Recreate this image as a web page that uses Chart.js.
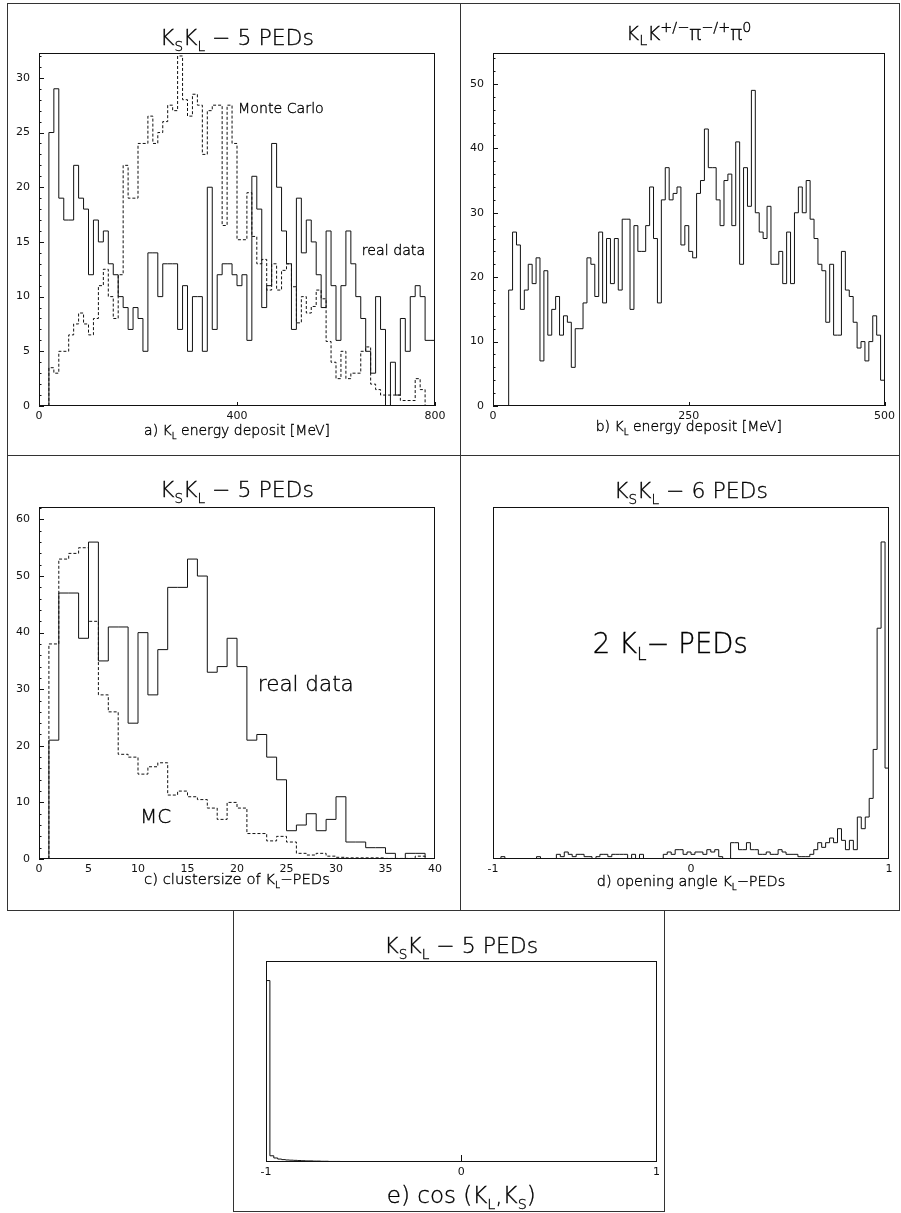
<!DOCTYPE html>
<html>
<head>
<meta charset="utf-8">
<script src="https://cdn.jsdelivr.net/npm/chart.js@4.4.1/dist/chart.umd.min.js"></script>
<style>
  html, body { margin: 0; padding: 0; background: #fff; }
  body { width: 901px; height: 1213px; position: relative; overflow: hidden; }
  .frame { position: absolute; box-sizing: border-box; border: 1px solid #333; }
  canvas { position: absolute; }
</style>
</head>
<body>
<div class="frame" style="left:7px;top:3px;width:454px;height:453px"></div>
<div class="frame" style="left:460px;top:3px;width:440px;height:453px"></div>
<div class="frame" style="left:7px;top:455px;width:454px;height:456px"></div>
<div class="frame" style="left:460px;top:455px;width:440px;height:456px"></div>
<div class="frame" style="left:233px;top:910px;width:432px;height:302px"></div>
<canvas id="pa"></canvas>
<canvas id="pb"></canvas>
<canvas id="pc"></canvas>
<canvas id="pd"></canvas>
<canvas id="pe"></canvas>
<script>
// ---- histogram contents (counts per bin) ----
// a) K_L energy deposit, K_S K_L 5 PEDs, 10 MeV bins from 0 to 800 MeV
const aBinLow = 0, aBinWidth = 10;
const aRealData = [0,0,25,29,19,17,17,22,19,18,
  12,17,15,16,13,12,10,9,7,9,
  8,5,14,14,10,13,13,13,7,11,
  5,10,10,5,20,7,12,13,13,12,
  11,12,6,21,18,9,11,24,20,16,
  13,7,19,14,17,15,12,9,16,11,
  6,11,16,13,10,8,5,3,10,7,
  0,4,1,8,5,10,11,10,6,6];
const aMonteCarlo = [0,0,3.5,3,5,5,6.5,7.5,8.5,7.5,
  6.5,8,11,12.5,10,8,12,22,19,19,
  24,24,26.5,24,25,26,27.5,27,32,28,
  26.5,28.5,27.5,23,27,27.5,27.5,16.5,27.5,24,
  15.2,15.2,19.5,15.5,13,13.4,10.6,13,10.6,12.4,
  13,10.9,7.6,10,8.5,9.1,10.6,9.8,5.9,4,
  2.5,5,2.5,3,3,5,5.4,2,1.5,1,
  1,1,1,0.5,0.5,0.5,2.5,1.5,0,0];
const aXTicks = [0, 400, 800];
const aYTicks = [0, 5, 10, 15, 20, 25, 30];

// b) K_L energy deposit, K_L K+- pi-+ pi0, 5 MeV bins from 0 to 500 MeV
const bBinLow = 0, bBinWidth = 5;
const bData = [0,0,0,0,18,27,25,15,18,22,
  19,23,7,21,11,15,17,11,14,13,
  6,12,12,16,23,22,17,27,16,26,
  19,26,18,29,29,15,28,24,24,28,
  34,26,16,32,37,32,33,34,25,28,
  24,23,33,35,43,37,37,32,28,35,
  36,28,41,22,37,31,49,30,27,26,
  31,22,22,24,19,27,19,30,34,30,
  35,29,26,22,21,13,22,11,11,24,
  18,17,13,9,10,7,10,14,11,4];
const bXTicks = [0, 250, 500];
const bYTicks = [0, 10, 20, 30, 40, 50];

// c) cluster size of K_L PEDs, unit bins from 0 to 40
const cBinLow = 0, cBinWidth = 1;
const cRealData = [0,21,47,47,39,56,35,41,41,24,
  40,29,37,48,48,53,50,33,34,39,
  34,21,22,18,14,5,6,8,5,7,
  11,3,3,2,2,1,0,1,1,0];
const cMonteCarlo = [0,38,53,54,55,42,29,26,18.5,18,
  15,16.3,17,11.3,12,11,10.5,9,7,10,
  9,4.5,4.5,3.2,4,3,1,0.7,1,0.5,
  0.3,0.2,0.2,0.2,0.2,0.1,0.1,0.1,0.5,0];
const cXTicks = [0, 5, 10, 15, 20, 25, 30, 35, 40];
const cYTicks = [0, 10, 20, 30, 40, 50, 60];

// d) opening angle of the two K_L PEDs, 0.02 bins from -1 to 1
const dBinLow = -1, dBinWidth = 0.02;
const dData = [0,0,1,0,0,0,0,0,0,0,
  0,1,0,0,0,0,2,1,3,2,
  1,2,2,1,1,0,1,2,2,1,
  2,2,2,2,0,2,0,2,0,0,
  0,0,0,2,3,2,4,4,2,3,
  2,3,3,2,4,3,4,1,0,0,
  7,7,4,4,7,4,4,2,2,3,
  2,2,4,3,2,2,2,1,1,1,
  2,4,7,5,7,9,7,13,8,4,
  8,4,18,13,18,26,47,99,136,39];
const dXTicks = [-1, 0, 1];

// e) cos(K_L, K_S), 0.02 bins from -1 to 1
const eBinLow = -1, eBinWidth = 0.02;
const eData = [993,34,22,16,13,11,10,9,8,7,
  6,6,5,5,4,4,3,3,3,2,
  2,2,2,1,1,1,1,1,0,0,
  0,0,0,0,0,0,0,0,0,0,
  0,0,0,0,0,0,0,0,0,0,
  0,0,0,0,0,0,0,0,0,0,
  0,0,0,0,0,0,0,0,0,0,
  0,0,0,0,0,0,0,0,0,0,
  0,0,0,0,0,0,0,0,0,0,
  0,0,0,0,0,0,0,0,0,0];
const eXTicks = [-1, 0, 1];

// ---- drawing helpers ----
const FAMILY = "'DejaVu Sans', 'Liberation Sans', sans-serif";
const WEIGHT = 200;

// outline of a histogram as a stepped polyline through the bin edges
function histPoints(values, lo, width) {
  const pts = values.map((v, i) => ({ x: lo + i * width, y: v }));
  const hi = lo + values.length * width;
  pts.push({ x: hi, y: values[values.length - 1] });
  pts.push({ x: hi, y: 0 });
  return pts;
}

// text with sub/superscript segments, y = baseline
function drawRich(ctx, segs, x, y, size, align, scriptScale) {
  const sc = scriptScale || 0.62;
  const parts = segs.map(s => {
    const fs = (s.sub || s.sup) ? size * sc : size;
    ctx.font = WEIGHT + ' ' + fs.toFixed(1) + 'px ' + FAMILY;
    return { s, fs, w: ctx.measureText(s.t).width };
  });
  const total = parts.reduce((a, p) => a + p.w, 0);
  let cx = align === 'center' ? x - total / 2 : (align === 'right' ? x - total : x);
  ctx.save();
  ctx.fillStyle = '#000';
  ctx.strokeStyle = '#000';
  ctx.lineWidth = 0.35;
  ctx.textAlign = 'left';
  ctx.textBaseline = 'alphabetic';
  for (const p of parts) {
    ctx.font = WEIGHT + ' ' + p.fs.toFixed(1) + 'px ' + FAMILY;
    const dy = p.s.sub ? size * 0.27 : (p.s.sup ? -size * 0.42 : 0);
    ctx.fillText(p.s.t, cx, y + dy);
    ctx.strokeText(p.s.t, cx, y + dy);
    cx += p.w;
  }
  ctx.restore();
}

// frame, inward tick marks, titles and notes
const panelDecor = {
  id: 'panelDecor',
  afterDraw(chart, args, o) {
    const ctx = chart.ctx, A = chart.chartArea;
    const xs = chart.scales.x, ys = chart.scales.y;
    ctx.save();
    ctx.strokeStyle = '#111';
    ctx.lineWidth = 1;
    ctx.strokeRect(Math.round(A.left) + 0.5, Math.round(A.top) + 0.5,
                   Math.round(A.right - A.left) - 1, Math.round(A.bottom - A.top) - 1);
    ctx.beginPath();
    if (o.yMinor) {
      for (let v = 0; v <= ys.max + 1e-9; v += o.yMinor) {
        const major = Math.abs(v / o.yMajor - Math.round(v / o.yMajor)) < 1e-6;
        const py = Math.round(ys.getPixelForValue(v)) + 0.5;
        ctx.moveTo(A.left, py);
        ctx.lineTo(A.left + (major ? 5 : 2.5), py);
      }
    }
    (o.xTickMarks || []).forEach(v => {
      const px = Math.round(xs.getPixelForValue(v)) + 0.5;
      ctx.moveTo(px, A.bottom);
      ctx.lineTo(px, A.bottom - o.xTickLen);
    });
    ctx.stroke();
    ctx.restore();
    const cx = (A.left + A.right) / 2;
    drawRich(ctx, o.title, cx, A.top - o.titleGap, o.titleSize, 'center', o.titleScript);
    drawRich(ctx, o.axisTitle, cx, A.bottom + o.axisTitleGap, o.axisTitleSize, 'center');
    (o.notes || []).forEach(n => {
      drawRich(ctx, n.segs, xs.getPixelForValue(n.x), ys.getPixelForValue(n.y), n.size, 'left');
    });
  }
};

function makePanel(id, box, plot, cfg) {
  const cv = document.getElementById(id);
  const cl = box.x + 1, ct = box.y + 1, cw = box.w - 2, ch = box.h - 2;
  cv.width = cw; cv.height = ch;
  cv.style.left = cl + 'px'; cv.style.top = ct + 'px';
  const yWidth = plot.l - cl, xHeight = (ct + ch) - plot.b;
  const tickFont = { family: FAMILY, size: 11 };
  new Chart(cv, {
    type: 'line',
    data: { datasets: cfg.datasets.map(d => ({
      data: histPoints(d.values, d.lo, d.width),
      stepped: 'before',
      borderColor: '#111',
      borderWidth: 1,
      borderDash: d.dash || [],
      pointRadius: 0,
      fill: false,
      tension: 0
    })) },
    plugins: [panelDecor],
    options: {
      responsive: false,
      animation: false,
      events: [],
      devicePixelRatio: 1,
      layout: { padding: { left: 0, top: plot.t - ct, right: (cl + cw) - plot.r, bottom: 0 } },
      plugins: {
        legend: { display: false },
        tooltip: { enabled: false },
        panelDecor: cfg.decor
      },
      scales: {
        x: {
          type: 'linear', min: cfg.xMin, max: cfg.xMax,
          grid: { display: false, drawTicks: false },
          border: { display: false },
          afterBuildTicks: s => { s.ticks = cfg.xTicks.map(v => ({ value: v })); },
          afterFit: s => { s.height = xHeight; },
          ticks: { autoSkip: false, maxRotation: 0, padding: cfg.xLabelPad, color: '#111', font: tickFont,
                   callback: v => String(v) }
        },
        y: {
          type: 'linear', min: 0, max: cfg.yMax,
          grid: { display: false, drawTicks: false },
          border: { display: false },
          afterBuildTicks: s => { s.ticks = (cfg.yTicks || []).map(v => ({ value: v })); },
          afterFit: s => { s.width = yWidth; },
          ticks: { display: !!cfg.yTicks, autoSkip: false, padding: 9, color: '#111', font: tickFont,
                   callback: v => String(v) }
        }
      }
    }
  });
}

const KSKL5 = [{ t: 'K' }, { t: 'S', sub: 1 }, { t: 'K' }, { t: 'L', sub: 1 }, { t: ' \u2212 5 PEDs' }];

makePanel('pa', { x: 7, y: 3, w: 454, h: 453 }, { l: 39, t: 53, r: 435, b: 406 }, {
  xMin: 0, xMax: 800, yMax: 32.27, xTicks: aXTicks, yTicks: aYTicks, xLabelPad: 4,
  datasets: [
    { values: aRealData, lo: aBinLow, width: aBinWidth },
    { values: aMonteCarlo, lo: aBinLow, width: aBinWidth, dash: [3, 2] }
  ],
  decor: {
    yMinor: 1, yMajor: 5, xTickMarks: aXTicks, xTickLen: 4,
    title: KSKL5, titleSize: 22, titleGap: 8,
    axisTitle: [{ t: 'a) K' }, { t: 'L', sub: 1 }, { t: ' energy deposit [MeV]' }], axisTitleSize: 14, axisTitleGap: 29,
    notes: [
      { segs: [{ t: 'Monte Carlo' }], x: 402, y: 26.8, size: 14.2 },
      { segs: [{ t: 'real data' }], x: 652, y: 13.8, size: 14.2 }
    ]
  }
});

makePanel('pb', { x: 460, y: 3, w: 440, h: 453 }, { l: 493, t: 53, r: 889, b: 406 }, {
  xMin: 0, xMax: 500, yMax: 54.8, xTicks: bXTicks, yTicks: bYTicks, xLabelPad: 4,
  datasets: [{ values: bData, lo: bBinLow, width: bBinWidth }],
  decor: {
    yMinor: 2, yMajor: 10, xTickMarks: bXTicks, xTickLen: 4,
    title: [{ t: 'K' }, { t: 'L', sub: 1 }, { t: 'K' }, { t: '+/\u2212', sup: 1 }, { t: '\u03c0' },
            { t: '\u2212/+', sup: 1 }, { t: '\u03c0' }, { t: '0', sup: 1 }],
    titleSize: 20, titleScript: 0.72, titleGap: 13,
    axisTitle: [{ t: 'b) K' }, { t: 'L', sub: 1 }, { t: ' energy deposit [MeV]' }], axisTitleSize: 14, axisTitleGap: 25
  }
});

makePanel('pc', { x: 7, y: 455, w: 454, h: 456 }, { l: 39, t: 507, r: 435, b: 859 }, {
  xMin: 0, xMax: 40, yMax: 62.2, xTicks: cXTicks, yTicks: cYTicks, xLabelPad: 4,
  datasets: [
    { values: cRealData, lo: cBinLow, width: cBinWidth },
    { values: cMonteCarlo, lo: cBinLow, width: cBinWidth, dash: [3, 2] }
  ],
  decor: {
    yMinor: 2, yMajor: 10, xTickMarks: [], xTickLen: 0,
    title: KSKL5, titleSize: 22, titleGap: 10,
    axisTitle: [{ t: 'c) clustersize of K' }, { t: 'L', sub: 1 }, { t: '\u2212PEDs' }], axisTitleSize: 14.8, axisTitleGap: 25,
    notes: [
      { segs: [{ t: 'real data' }], x: 22.1, y: 29.6, size: 21.5 },
      { segs: [{ t: 'MC' }], x: 10.2, y: 6.4, size: 20 }
    ]
  }
});

makePanel('pd', { x: 460, y: 455, w: 440, h: 456 }, { l: 493, t: 507, r: 889, b: 859 }, {
  xMin: -1, xMax: 1, yMax: 151, xTicks: dXTicks, yTicks: null, xLabelPad: 4,
  datasets: [{ values: dData, lo: dBinLow, width: dBinWidth }],
  decor: {
    yMinor: 0, xTickMarks: [], xTickLen: 0,
    title: [{ t: 'K' }, { t: 'S', sub: 1 }, { t: 'K' }, { t: 'L', sub: 1 }, { t: ' \u2212 6 PEDs' }],
    titleSize: 22, titleGap: 9,
    axisTitle: [{ t: 'd) opening angle K' }, { t: 'L', sub: 1 }, { t: '\u2212PEDs' }], axisTitleSize: 14.4, axisTitleGap: 27,
    notes: [
      { segs: [{ t: '2 K' }, { t: 'L', sub: 1 }, { t: '\u2212 PEDs' }], x: -0.496, y: 88.4, size: 27.5 }
    ]
  }
});

makePanel('pe', { x: 233, y: 910, w: 432, h: 302 }, { l: 266, t: 961, r: 662, b: 1162 }, {
  xMin: -1, xMax: 1, yMax: 1100, xTicks: eXTicks, yTicks: null, xLabelPad: 4,
  datasets: [{ values: eData, lo: eBinLow, width: eBinWidth }],
  decor: {
    yMinor: 0, xTickMarks: [0], xTickLen: 7,
    title: KSKL5, titleSize: 22, titleGap: 8,
    axisTitle: [{ t: 'e) cos (K' }, { t: 'L', sub: 1 }, { t: ',K' }, { t: 'S', sub: 1 }, { t: ')' }], axisTitleSize: 23, axisTitleGap: 41
  }
});
</script>
</body>
</html>
